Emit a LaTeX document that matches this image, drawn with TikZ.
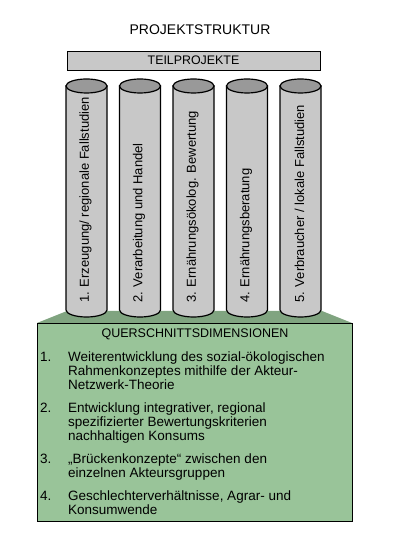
\documentclass[tikz,border=0pt]{standalone}
\usepackage{fontspec}
\setmainfont{Liberation Sans}
\usetikzlibrary{positioning}
\definecolor{cylbody}{RGB}{200,200,200}
\definecolor{cyltop}{RGB}{153,153,153}
\definecolor{platfront}{RGB}{153,196,153}
\definecolor{plattop}{RGB}{128,164,128}

\begin{document}
\begin{tikzpicture}[x=1pt,y=1pt,
    cyltext/.style={rotate=90,anchor=west,inner sep=0pt,font=\fontsize{13}{15}\selectfont},
    listtext/.style={anchor=base west,inner sep=0pt,align=left,font=\fontsize{13.5}{14}\selectfont}]
    % Frame
    \useasboundingbox (0,0) rectangle (401,548);

    % Title and top bar
    \node (title) at (200,518) {\fontsize{14}{16}\selectfont PROJEKTSTRUKTUR};
    \node[draw,fill=cylbody,minimum width=253pt,minimum height=19.5pt,inner sep=0pt]
        (teil) at (193.5,487.3) {\fontsize{12.4}{14}\selectfont TEILPROJEKTE};

    % Platform
    \fill[plattop] (37,225) -- (67,237) -- (322,237) -- (352,225) -- cycle;
    \draw[fill=platfront] (37,27) rectangle (352,225);

    % Pillars
    \foreach \i/\txt in {1/{1. Erzeugung/ regionale Fallstudien},
        2/{2. Verarbeitung und Handel},
        3/{3. Ernährungsökolog. Bewertung},
        4/{4. Ernährungsberatung},
        5/{5. Verbraucher / lokale Fallstudien}} {
      \pgfmathsetmacro{\cx}{86.5+53.5*(\i-1)}
      \filldraw[fill=cylbody,line width=1.2pt] (\cx-20.5,462) -- (\cx-20.5,238)
          arc[start angle=180,end angle=360,x radius=20.5pt,y radius=7pt]
          -- (\cx+20.5,462) -- cycle;
      \filldraw[fill=cyltop,line width=1.2pt] (\cx,462) ellipse[x radius=20.5pt,y radius=7pt];
      \node[cyltext] (pillar\i) at (\cx-1,245) {\txt};
    }

    % Cross-sectional dimensions (nodes sit on the baseline of their last line)
    \node (qsd) at (195,214) {\fontsize{12.5}{14}\selectfont QUERSCHNITTSDIMENSIONEN};
    \node[listtext] (num1) at (40,186) {1.};
    \node[listtext] (item1) at (68,158) {Weiterentwicklung des sozial-ökologischen\\Rahmenkonzeptes mithilfe der Akteur-\\Netzwerk-Theorie};
    \node[listtext] (num2) at (40,135) {2.};
    \node[listtext] (item2) at (68,107) {Entwicklung integrativer, regional\\spezifizierter Bewertungskriterien\\nachhaltigen Konsums};
    \node[listtext] (num3) at (40,84) {3.};
    \node[listtext] (item3) at (68,70) {„Brückenkonzepte“ zwischen den\\einzelnen Akteursgruppen};
    \node[listtext] (num4) at (40,47) {4.};
    \node[listtext] (item4) at (68,33) {Geschlechterverhältnisse, Agrar- und\\Konsumwende};

\end{tikzpicture}
\end{document}
